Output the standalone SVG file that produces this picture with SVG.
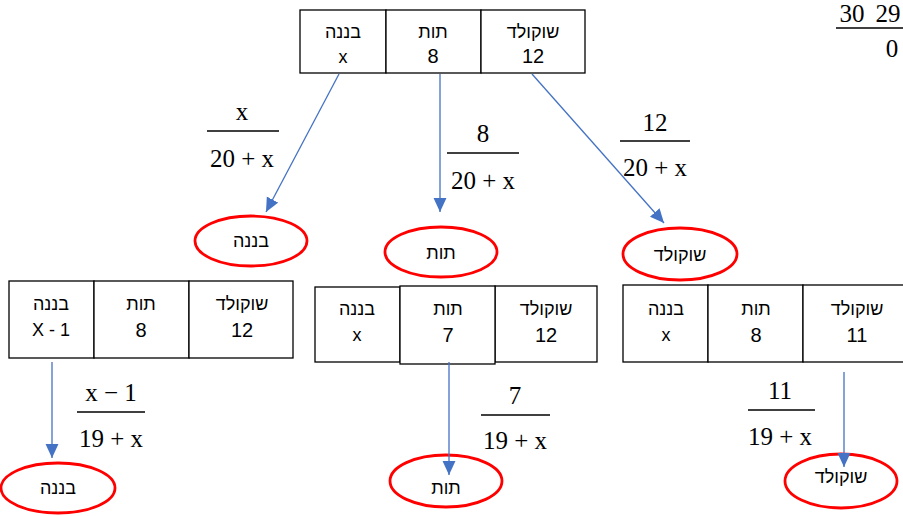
<svg xmlns="http://www.w3.org/2000/svg" width="903" height="516" viewBox="0 0 903 516">
<style>
.box{fill:#fff;stroke:#000;stroke-width:1.3}
.lbl{font-family:"Liberation Sans",Arial,"Noto Sans",sans-serif;font-size:18px;fill:#000;text-anchor:middle}
.num{font-size:20px}
.frac{font-family:"Liberation Serif","Times New Roman",serif;font-size:25px;fill:#000;text-anchor:middle}
.bar{stroke:#000;stroke-width:1.3}
.ell{fill:#fff;stroke:#f00;stroke-width:2.8}
.arr{stroke:#4472C4;stroke-width:1.3;fill:none;marker-end:url(#ah)}
</style>
<defs>
<marker id="ah" markerWidth="14" markerHeight="14" refX="13" refY="6" orient="auto" markerUnits="userSpaceOnUse" viewBox="0 0 13 12">
<path d="M0,0 L13,6 L0,12 z" fill="#4472C4"/>
</marker>
</defs>
<rect width="903" height="516" fill="#fff"/>

<g id="corner">
<text class="frac" x="852" y="22">30</text>
<text class="frac" x="888" y="22" text-anchor="start">29</text>
<line class="bar" x1="836" y1="28" x2="903" y2="28"/>
<text class="frac" x="892" y="57" text-anchor="start">0</text>
</g>

<g id="top-box">
<rect class="box" x="300" y="10" width="86" height="63"/>
<rect class="box" x="386" y="10" width="95" height="63"/>
<rect class="box" x="481" y="10" width="104" height="63"/>
<text class="lbl" x="343" y="38">בננה</text>
<text class="lbl" x="343" y="63" font-size="17">x</text>
<text class="lbl" x="433" y="38">תות</text>
<text class="lbl num" x="433" y="63">8</text>
<text class="lbl" x="533" y="38">שוקולד</text>
<text class="lbl num" x="533" y="63">12</text>
</g>

<g id="frac1">
<text class="frac" x="242" y="120">x</text>
<line class="bar" x1="207" y1="131" x2="279" y2="131"/>
<text class="frac" x="242" y="167">20 + x</text>
</g>
<g id="frac2">
<text class="frac" x="483" y="142">8</text>
<line class="bar" x1="447" y1="153" x2="519" y2="153"/>
<text class="frac" x="483" y="189">20 + x</text>
</g>
<g id="frac3">
<text class="frac" x="655" y="131">12</text>
<line class="bar" x1="620" y1="141" x2="690" y2="141"/>
<text class="frac" x="655" y="176">20 + x</text>
</g>

<g id="ell-top-banana">
<ellipse class="ell" cx="251" cy="241" rx="56" ry="25"/>
<text class="lbl" x="251" y="247" font-size="17">בננה</text>
</g>
<g id="ell-top-tut">
<ellipse class="ell" cx="441" cy="252" rx="56" ry="25"/>
<text class="lbl" x="441" y="259" font-size="17">תות</text>
</g>
<g id="ell-top-choc">
<ellipse class="ell" cx="680" cy="254" rx="57" ry="26"/>
<text class="lbl" x="680" y="261" font-size="17">שוקולד</text>
</g>

<g id="box-left">
<rect class="box" x="9" y="281" width="85" height="77"/>
<rect class="box" x="94" y="281" width="95" height="77"/>
<rect class="box" x="189" y="281" width="104" height="77"/>
<text class="lbl" x="51" y="310">בננה</text>
<text class="lbl" x="51" y="336">X - 1</text>
<text class="lbl" x="141" y="310">תות</text>
<text class="lbl num" x="141" y="337">8</text>
<text class="lbl" x="242" y="310">שוקולד</text>
<text class="lbl num" x="242" y="337">12</text>
</g>

<g id="box-mid">
<rect class="box" x="315" y="287" width="85" height="75"/>
<rect class="box" x="495" y="286" width="102" height="76"/>
<rect class="box" x="400" y="286" width="95" height="78"/>
<text class="lbl" x="357" y="315">בננה</text>
<text class="lbl" x="357" y="341" font-size="17">x</text>
<text class="lbl" x="448" y="315">תות</text>
<text class="lbl num" x="448" y="342">7</text>
<text class="lbl" x="546" y="315">שוקולד</text>
<text class="lbl num" x="546" y="342">12</text>
</g>

<g id="box-right">
<rect class="box" x="623" y="285" width="85" height="77"/>
<rect class="box" x="708" y="285" width="95" height="77"/>
<rect class="box" x="803" y="285" width="104" height="77"/>
<text class="lbl" x="666" y="315">בננה</text>
<text class="lbl" x="666" y="341" font-size="17">x</text>
<text class="lbl" x="756" y="315">תות</text>
<text class="lbl num" x="756" y="342">8</text>
<text class="lbl" x="857" y="315">שוקולד</text>
<text class="lbl num" x="857" y="342">11</text>
</g>

<g id="frac4">
<text class="frac" x="111" y="401">x − 1</text>
<line class="bar" x1="77" y1="412" x2="145" y2="412"/>
<text class="frac" x="111" y="447">19 + x</text>
</g>
<g id="frac5">
<text class="frac" x="515" y="404">7</text>
<line class="bar" x1="481" y1="415" x2="550" y2="415"/>
<text class="frac" x="515" y="449">19 + x</text>
</g>
<g id="frac6">
<text class="frac" x="780" y="399">11</text>
<line class="bar" x1="748" y1="410" x2="815" y2="410"/>
<text class="frac" x="780" y="445">19 + x</text>
</g>

<g id="ell-bot-banana">
<ellipse class="ell" cx="58" cy="488" rx="57" ry="25"/>
<text class="lbl" x="58" y="494" font-size="17">בננה</text>
</g>
<g id="ell-bot-tut">
<ellipse class="ell" cx="446" cy="481" rx="56" ry="26"/>
<text class="lbl" x="446" y="494" font-size="17">תות</text>
</g>
<g id="ell-bot-choc">
<ellipse class="ell" cx="841" cy="481" rx="56" ry="27"/>
<text class="lbl" x="841" y="483" font-size="17">שוקולד</text>
</g>

<g id="connectors">
<line class="arr" x1="339" y1="74" x2="266" y2="212"/>
<line class="arr" x1="440" y1="74" x2="440" y2="212"/>
<line class="arr" x1="532" y1="74" x2="664" y2="223"/>
<line class="arr" x1="52" y1="362" x2="52" y2="458"/>
<line class="arr" x1="449" y1="362" x2="449" y2="475"/>
<line class="arr" x1="844" y1="372" x2="844" y2="467"/>
</g>
</svg>
